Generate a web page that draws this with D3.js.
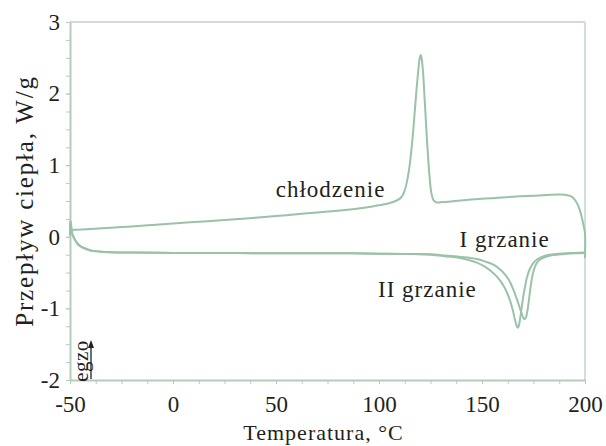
<!DOCTYPE html>
<html>
<head>
<meta charset="utf-8">
<script src="https://cdn.jsdelivr.net/npm/d3@7"></script>
<style>
  body { margin: 0; background: #fff; }
  text { font-family: "Liberation Serif", serif; fill: #231f20; }
</style>
</head>
<body>
<div id="chart"></div>
<script>
// DSC CHART - heat flow vs temperature //

// chłodzenie (cooling run, drawn from 200 down to -50)
const coolT = [200, 200, 199.5, 199, 198.2, 197.4, 196.3, 195, 193.5, 191.5, 188, 182, 175, 165, 155, 145, 137, 131, 128,
  126.5, 125.5, 124.5, 123.3, 122.3, 121.4, 120.8, 120.3, 119.8, 119, 118.2, 117.5, 116.5, 115.5, 114.5, 113.5, 112.5,
  111.5, 110, 108, 106, 102, 96, 90, 80, 70, 60, 50, 40, 30, 20, 10, 0, -10, -20, -30, -40, -50];
const coolQ = [-0.30, 0.05, 0.13, 0.20, 0.30, 0.38, 0.46, 0.52, 0.56, 0.58, 0.59, 0.585, 0.575, 0.56, 0.54, 0.52, 0.50, 0.485, 0.48,
  0.51, 0.60, 0.85, 1.35, 1.85, 2.29, 2.47, 2.54, 2.50, 2.30, 2.05, 1.80, 1.45, 1.15, 0.92, 0.76, 0.65,
  0.58, 0.53, 0.50, 0.48, 0.45, 0.42, 0.395, 0.365, 0.34, 0.315, 0.29, 0.265, 0.245, 0.225, 0.205, 0.185, 0.165, 0.145, 0.128, 0.11, 0.095];

// I grzanie (first heating)
const heat1T = [-50, -49.8, -49.4, -49, -48, -46.5, -45, -43, -40, -36, -30, -20, 0, 20, 40, 60, 80, 100, 115, 125, 132, 138,
  143, 147.5, 152, 155.5, 158.5, 161, 163, 165, 166.8, 168.3, 169.4, 170.2, 170.8, 171.4, 172, 172.8, 173.5, 174.3, 175.2,
  176.5, 178, 181, 184.5, 190, 195, 200];
const heat1Q = [0.02, 0.22, 0.14, 0.05, -0.02, -0.09, -0.13, -0.16, -0.19, -0.205, -0.215, -0.22, -0.225, -0.225, -0.23, -0.23, -0.23, -0.235, -0.24, -0.245, -0.26, -0.275,
  -0.29, -0.31, -0.35, -0.39, -0.45, -0.52, -0.60, -0.72, -0.86, -0.99, -1.08, -1.14, -1.15, -1.12, -1.04, -0.88, -0.72, -0.57, -0.46,
  -0.37, -0.32, -0.28, -0.255, -0.24, -0.23, -0.225];

// II grzanie (second heating)
const heat2T = [-50, -49.8, -49.4, -49, -48, -46.5, -45, -43, -40, -36, -30, -20, 0, 20, 40, 60, 80, 100, 115, 125, 132, 138,
  143, 147.5, 151, 154, 157, 159.5, 161.5, 163.5, 165, 166, 166.8, 167.3, 167.8, 168.4, 169.2, 170, 171, 171.8, 173.2,
  174.8, 177, 181, 186, 195, 200];
const heat2Q = [0.02, 0.22, 0.14, 0.05, -0.02, -0.09, -0.13, -0.16, -0.19, -0.205, -0.215, -0.22, -0.225, -0.225, -0.23, -0.23, -0.23, -0.235, -0.24, -0.25, -0.27, -0.29,
  -0.32, -0.36, -0.41, -0.47, -0.55, -0.64, -0.74, -0.88, -1.03, -1.16, -1.24, -1.27, -1.25, -1.16, -1.00, -0.84, -0.68, -0.57, -0.45,
  -0.37, -0.31, -0.26, -0.24, -0.225, -0.22];

// axis ticks
const xTicks = [-50, 0, 50, 100, 150, 200];
const yTicks = [-2, -1, 0, 1, 2, 3];
const xMinor = d3.range(-50, 200.01, 12.5);
const yMinor = d3.range(-2, 3.01, 0.25);

// dimensions of the graph
const W = 606, H = 446;
const margin = { top: 22, right: 21, bottom: 66, left: 70 };
const width = W - margin.left - margin.right;
const height = H - margin.top - margin.bottom;

const curveColor = "#9bc2a7";
const axisColor = "#b4cdbb";

const svg = d3.select("#chart")
  .append("svg")
  .attr("width", W)
  .attr("height", H)
  .append("g")
  .attr("transform", `translate(${margin.left},${margin.top})`);

const x = d3.scaleLinear().domain([-50, 200]).range([0, width]);
const y = d3.scaleLinear().domain([-2, 3]).range([height, 0]);

// frame: top grey, right light green
svg.append("line")
  .attr("x1", 0).attr("x2", width).attr("y1", 0).attr("y2", 0)
  .attr("stroke", "#c9c9c9").attr("stroke-width", 1.5);
svg.append("line")
  .attr("x1", width).attr("x2", width).attr("y1", 0).attr("y2", height)
  .attr("stroke", "#cfe0d4").attr("stroke-width", 2);

// minor ticks
svg.append("g")
  .attr("transform", `translate(0,${height})`)
  .call(d3.axisBottom(x).tickValues(xMinor).tickSize(4).tickFormat(""))
  .call(g => g.selectAll("line").attr("stroke", axisColor))
  .call(g => g.select(".domain").remove());
svg.append("g")
  .call(d3.axisLeft(y).tickValues(yMinor).tickSize(4).tickFormat(""))
  .call(g => g.selectAll("line").attr("stroke", axisColor))
  .call(g => g.select(".domain").remove());

// X axis
svg.append("g")
  .attr("transform", `translate(0,${height})`)
  .call(d3.axisBottom(x).tickValues(xTicks).tickFormat(d => String(d)).tickSize(4).tickPadding(12).tickSizeOuter(0))
  .call(g => g.select(".domain").attr("stroke", axisColor).attr("stroke-width", 2))
  .call(g => g.selectAll("line").attr("stroke", axisColor))
  .call(g => g.selectAll("text").style("font-size", "23px").style("font-family", "Liberation Serif"));

// Y axis
svg.append("g")
  .call(d3.axisLeft(y).tickValues(yTicks).tickFormat(d => String(d)).tickSize(4).tickPadding(6).tickSizeOuter(0))
  .call(g => g.select(".domain").attr("stroke", axisColor).attr("stroke-width", 2))
  .call(g => g.selectAll("line").attr("stroke", axisColor))
  .call(g => g.selectAll("text").style("font-size", "23px").style("font-family", "Liberation Serif"));

// axis titles
svg.append("text")
  .attr("x", width / 2 - 4)
  .attr("y", height + 60)
  .attr("text-anchor", "middle")
  .style("font-size", "22px")
  .style("letter-spacing", "1px")
  .text("Temperatura, °C");

svg.append("text")
  .attr("transform", `translate(${33 - margin.left},${height / 2}) rotate(-90)`)
  .attr("text-anchor", "middle")
  .style("font-size", "25px")
  .style("letter-spacing", "1.8px")
  .text("Przepływ ciepła, W/g");

// curves
const line = d3.line()
  .x(d => x(d[0]))
  .y(d => y(d[1]))
  .curve(d3.curveCatmullRom.alpha(0.5));

[[coolT, coolQ], [heat1T, heat1Q], [heat2T, heat2Q]].forEach(([t, q]) => {
  svg.append("path")
    .datum(d3.zip(t, q))
    .attr("d", line)
    .attr("fill", "none")
    .attr("stroke", curveColor)
    .attr("stroke-width", 2);
});

// curve labels
svg.append("text")
  .attr("x", x(76.5)).attr("y", y(0.56))
  .attr("text-anchor", "middle")
  .style("font-size", "23px").style("letter-spacing", "1px")
  .text("chłodzenie");
svg.append("text")
  .attr("x", x(161)).attr("y", y(-0.14))
  .attr("text-anchor", "middle")
  .style("font-size", "23px").style("letter-spacing", "1px")
  .text("I grzanie");
svg.append("text")
  .attr("x", x(123.5)).attr("y", y(-0.84))
  .attr("text-anchor", "middle")
  .style("font-size", "23px").style("letter-spacing", "1px")
  .text("II grzanie");

// egzo arrow
svg.append("text")
  .attr("transform", `translate(${88 - margin.left},${361 - margin.top}) rotate(-90)`)
  .attr("text-anchor", "middle")
  .style("font-size", "21px")
  .style("letter-spacing", "0.5px")
  .text("egzo");
svg.append("line")
  .attr("x1", 91 - margin.left).attr("x2", 91 - margin.left)
  .attr("y1", 379 - margin.top).attr("y2", 346 - margin.top)
  .attr("stroke", "#231f20").attr("stroke-width", 1.3);
svg.append("path")
  .attr("d", `M${91 - margin.left},${340 - margin.top} l-3,8 l6,0 z`)
  .attr("fill", "#231f20");
</script>
</body>
</html>
